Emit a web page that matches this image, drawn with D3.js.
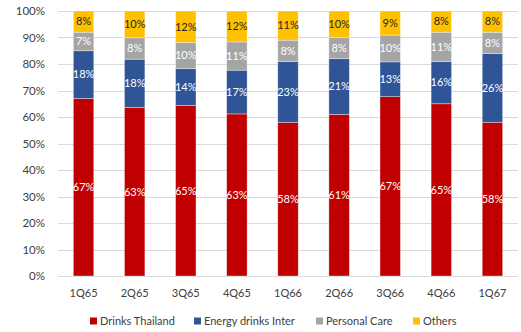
<!DOCTYPE html>
<html>
<head>
<meta charset="utf-8">
<script src="https://cdn.jsdelivr.net/npm/d3@7"></script>
<style>
  body { margin: 0; background: #fff; }
  svg text { font-family: Lato, "Open Sans", sans-serif; }
</style>
</head>
<body>
<svg id="chart" width="521" height="332"></svg>
<script>
// Data
const quarters = ['1Q65', '2Q65', '3Q65', '4Q65', '1Q66', '2Q66', '3Q66', '4Q66', '1Q67'];
const drinksThailand = [67, 63, 65, 63, 58, 61, 67, 65, 58];
const energyInter = [18, 18, 14, 17, 23, 21, 13, 16, 26];
const personalCare = [7, 8, 10, 11, 8, 8, 10, 11, 8];
const others = [8, 10, 12, 12, 11, 10, 9, 8, 8];
const seriesNames = ['Drinks Thailand', 'Energy drinks Inter', 'Personal Care', 'Others'];
const yTicks = [0, 0.1, 0.2, 0.3, 0.4, 0.5, 0.6, 0.7, 0.8, 0.9, 1];

const colors = ['#C00000', '#2F5597', '#A5A5A5', '#FFC000'];
const labelColors = ['#ffffff', '#ffffff', '#ffffff', '#262626'];

// Build rows for d3.stack
const rows = quarters.map((q, i) => ({
    q: q,
    'Drinks Thailand': drinksThailand[i],
    'Energy drinks Inter': energyInter[i],
    'Personal Care': personalCare[i],
    'Others': others[i]
}));

const stacked = d3.stack()
    .keys(seriesNames)
    .offset(d3.stackOffsetExpand)(rows);

const margin = { left: 58, right: 3, top: 11, bottom: 56 };
const width = 521, height = 332;
const svg = d3.select('#chart');

const x = d3.scaleBand()
    .domain(quarters)
    .range([margin.left, width - margin.right])
    .paddingInner(0.6)
    .paddingOuter(0.3);

const y = d3.scaleLinear()
    .domain([0, 1])
    .range([height - margin.bottom, margin.top]);

// Gridlines
svg.append('g')
    .selectAll('line')
    .data(yTicks)
    .enter()
    .append('line')
    .attr('x1', margin.left)
    .attr('x2', width - margin.right)
    .attr('y1', d => Math.round(y(d)) + 0.5)
    .attr('y2', d => Math.round(y(d)) + 0.5)
    .attr('stroke', '#d9d9d9')
    .attr('stroke-width', 1);

// Y axis labels
const yAxis = svg.append('g')
    .attr('transform', `translate(${margin.left - 10},0)`)
    .call(d3.axisLeft(y).tickValues(yTicks).tickFormat(d3.format('.0%')).tickSize(0));
yAxis.select('.domain').remove();
yAxis.selectAll('text')
    .attr('fill', '#404040')
    .style('font-size', '11.5px');

// X axis labels
const xAxis = svg.append('g')
    .attr('transform', `translate(0,${height - margin.bottom + 10})`)
    .call(d3.axisBottom(x).tickSize(0));
xAxis.select('.domain').remove();
xAxis.selectAll('text')
    .attr('fill', '#404040')
    .style('font-size', '11px');

// Bars
const layers = svg.selectAll('.layer')
    .data(stacked)
    .enter()
    .append('g')
    .attr('class', 'layer')
    .attr('fill', (d, i) => colors[i]);

layers.selectAll('rect')
    .data(d => d)
    .enter()
    .append('rect')
    .attr('x', d => x(d.data.q))
    .attr('y', d => y(d[1]))
    .attr('width', x.bandwidth())
    .attr('height', d => y(d[0]) - y(d[1]))
    .attr('stroke', 'rgba(255,255,255,0.5)')
    .attr('stroke-width', 0.7);

// Data labels
stacked.forEach((layer, li) => {
    svg.append('g')
        .selectAll('text')
        .data(layer)
        .enter()
        .append('text')
        .attr('x', d => x(d.data.q) + x.bandwidth() / 2)
        .attr('y', d => y((d[0] + d[1]) / 2))
        .attr('dy', '0.35em')
        .attr('text-anchor', 'middle')
        .attr('fill', labelColors[li])
        .style('font-size', '11px')
        .text(d => d.data[layer.key] + '%');
});

// Legend
const legendX = [90, 194, 316, 413];
const legend = svg.append('g')
    .selectAll('g')
    .data(seriesNames)
    .enter()
    .append('g')
    .attr('transform', (d, i) => `translate(${legendX[i]},${321})`);

legend.append('rect')
    .attr('x', 0)
    .attr('y', -3.5)
    .attr('width', 7)
    .attr('height', 7)
    .attr('fill', (d, i) => colors[i]);

legend.append('text')
    .attr('x', 10)
    .attr('y', 0)
    .attr('dy', '0.35em')
    .attr('fill', '#404040')
    .style('font-size', '11px')
    .text(d => d);
</script>
</body>
</html>
